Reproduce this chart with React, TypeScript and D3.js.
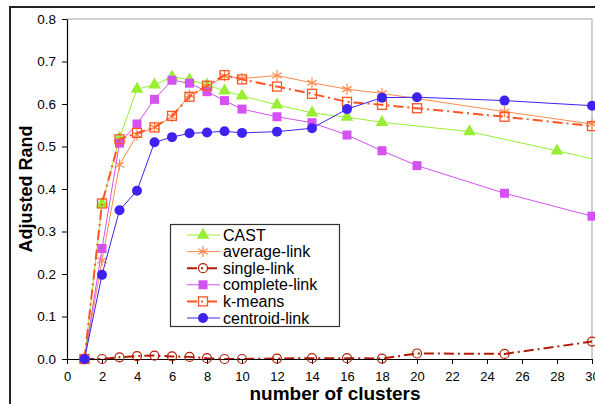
import { select, scaleLinear, axisBottom, axisLeft, line, symbol, symbolTriangle } from "d3";
import { useEffect, useRef } from "react";

// x positions (number of clusters)
const clusters = [1, 2, 3, 4, 5, 6, 7, 8, 9, 10, 12, 14, 16, 18, 20, 25, 30];
const castClusters = [1, 2, 3, 4, 5, 6, 7, 8, 9, 10, 12, 14, 16, 18, 23, 28, 32];
const avgClusters = [1, 2, 3, 4, 5, 6, 7, 8, 9, 10, 12, 14, 16, 18, 25, 30];

const castValues = [0, 0.365, 0.52, 0.635, 0.645, 0.664, 0.657, 0.645, 0.631, 0.619, 0.598, 0.579, 0.569, 0.557, 0.535, 0.49, 0.452];
const averageValues = [0, 0.232, 0.457, 0.527, 0.545, 0.57, 0.621, 0.64, 0.666, 0.66, 0.667, 0.65, 0.635, 0.625, 0.582, 0.553];
const singleValues = [0, 0, 0.004, 0.007, 0.008, 0.006, 0.005, 0.002, 0, 0, 0.001, 0.002, 0.002, 0.001, 0.013, 0.012, 0.041];
const completeValues = [0, 0.26, 0.508, 0.553, 0.611, 0.656, 0.649, 0.629, 0.608, 0.588, 0.57, 0.556, 0.527, 0.49, 0.455, 0.39, 0.336];
const kmeansValues = [0, 0.366, 0.517, 0.532, 0.545, 0.572, 0.617, 0.643, 0.668, 0.658, 0.641, 0.624, 0.605, 0.598, 0.59, 0.57, 0.548];
const centroidValues = [0, 0.198, 0.35, 0.396, 0.51, 0.522, 0.531, 0.533, 0.536, 0.532, 0.535, 0.543, 0.588, 0.615, 0.616, 0.608, 0.596];

const xTicks = [0, 2, 4, 6, 8, 10, 12, 14, 16, 18, 20, 22, 24, 26, 28, 30];
const yTicks = [0, 0.1, 0.2, 0.3, 0.4, 0.5, 0.6, 0.7, 0.8];

const series = [
  { name: "CAST", xs: castClusters, ys: castValues, color: "#99ee33", width: 1, dash: null, marker: "triangle" },
  { name: "average-link", xs: avgClusters, ys: averageValues, color: "#ff8a4c", width: 1, dash: null, marker: "asterisk" },
  { name: "single-link", xs: clusters, ys: singleValues, color: "#b01c00", width: 2, dash: "10,4,2,4", marker: "opencircle" },
  { name: "complete-link", xs: clusters, ys: completeValues, color: "#d452f2", width: 1, dash: null, marker: "square" },
  { name: "k-means", xs: clusters, ys: kmeansValues, color: "#ff5522", width: 2, dash: "10,4,2,4", marker: "opensquare" },
  { name: "centroid-link", xs: clusters, ys: centroidValues, color: "#3d22f2", width: 1, dash: null, marker: "circle" },
];

const W = 595, H = 404;
const margin = { top: 19, left: 67 };
const font = "Liberation Sans, Arial, sans-serif";

function drawMarker(g: any, kind: string, color: string, cx: number, cy: number) {
  if (kind === "triangle") {
    g.append("path").attr("d", symbol(symbolTriangle, 70)())
      .attr("transform", `translate(${cx},${cy})`).attr("fill", color);
  } else if (kind === "square") {
    g.append("rect").attr("x", cx - 4.5).attr("y", cy - 4.5).attr("width", 9).attr("height", 9).attr("fill", color);
  } else if (kind === "opensquare") {
    g.append("rect").attr("x", cx - 4.5).attr("y", cy - 4.5).attr("width", 9).attr("height", 9)
      .attr("fill", "none").attr("stroke", color).attr("stroke-width", 1.3);
  } else if (kind === "circle") {
    g.append("circle").attr("cx", cx).attr("cy", cy).attr("r", 5).attr("fill", color);
  } else if (kind === "opencircle") {
    g.append("circle").attr("cx", cx).attr("cy", cy).attr("r", 4.5)
      .attr("fill", "none").attr("stroke", color).attr("stroke-width", 1.2);
  } else if (kind === "asterisk") {
    const r = 5.5;
    [0, 60, 120].forEach((a) => {
      const rad = (a * Math.PI) / 180;
      g.append("line")
        .attr("x1", cx - r * Math.sin(rad)).attr("y1", cy - r * Math.cos(rad))
        .attr("x2", cx + r * Math.sin(rad)).attr("y2", cy + r * Math.cos(rad))
        .attr("stroke", color).attr("stroke-width", 1.2);
    });
  }
}

export default function App() {
  const ref = useRef<SVGSVGElement>(null);

  useEffect(() => {
    if (!ref.current) return;
    const svg = select(ref.current);
    svg.selectAll("*").remove();

    const x = scaleLinear().domain([0, 30]).range([margin.left, 592]);
    const y = scaleLinear().domain([0, 0.8]).range([359, margin.top]);

    // outer frame
    svg.append("rect").attr("x", 10).attr("y", 7).attr("width", W + 20).attr("height", H + 20)
      .attr("fill", "none").attr("stroke", "#222").attr("stroke-width", 2);

    // plot border (top / right)
    svg.append("line").attr("x1", x(0)).attr("x2", x(30)).attr("y1", y(0.8)).attr("y2", y(0.8))
      .attr("stroke", "#c0c0c0").attr("stroke-width", 1.5);
    svg.append("line").attr("x1", x(30)).attr("x2", x(30)).attr("y1", y(0.8)).attr("y2", y(0))
      .attr("stroke", "#c0c0c0").attr("stroke-width", 1.5);

    svg.append("defs").append("clipPath").attr("id", "plotclip")
      .append("rect").attr("x", x(0)).attr("y", y(0.8)).attr("width", x(30) - x(0)).attr("height", y(0) - y(0.8));

    const yAxis = svg.append("g").attr("transform", `translate(${x(0)},0)`)
      .call(axisLeft(y).tickValues(yTicks).tickFormat((d: any) => (+d).toFixed(1)).tickSize(5).tickSizeOuter(0));
    yAxis.select(".domain").attr("stroke", "#000").attr("stroke-width", 1.2);
    yAxis.selectAll("line").attr("stroke", "#000");
    yAxis.selectAll("text").attr("font-family", font).attr("font-size", 13.5)
      .attr("fill", "#000").attr("x", -11);

    const xAxis = svg.append("g").attr("transform", `translate(0,${y(0)})`)
      .call(axisBottom(x).tickValues(xTicks).tickSize(5).tickSizeOuter(0));
    xAxis.select(".domain").attr("stroke", "#000").attr("stroke-width", 1.2);
    xAxis.selectAll("line").attr("stroke", "#000");
    xAxis.selectAll("text").attr("font-family", font).attr("font-size", 13)
      .attr("fill", "#000").attr("y", 13);

    // series
    series.forEach((s) => {
      const pts = s.xs.map((c, i) => [c, s.ys[i]] as [number, number]);
      const path = line<[number, number]>().x((d) => x(d[0])).y((d) => y(d[1]));
      svg.append("path").attr("d", path(pts)).attr("fill", "none")
        .attr("stroke", s.color).attr("stroke-width", s.width)
        .attr("stroke-dasharray", s.dash)
        .attr("clip-path", "url(#plotclip)");
      const mg = svg.append("g");
      pts.filter((p) => p[0] <= 30).forEach((p) => drawMarker(mg, s.marker, s.color, x(p[0]), y(p[1])));
    });

    // legend
    const lg = svg.append("g");
    lg.append("rect").attr("x", 170.5).attr("y", 224.5).attr("width", 169).attr("height", 102)
      .attr("fill", "#fff").attr("stroke", "#333").attr("stroke-width", 1.2);
    series.forEach((s, i) => {
      const ly = 235 + i * 16.6;
      lg.append("line").attr("x1", 187).attr("x2", 220).attr("y1", ly).attr("y2", ly)
        .attr("stroke", s.color).attr("stroke-width", s.width).attr("stroke-dasharray", s.dash);
      drawMarker(lg, s.marker, s.color, 203, ly);
      lg.append("text").attr("x", 223).attr("y", ly + 5.5).text(s.name)
        .attr("font-family", font).attr("font-size", 16).attr("fill", "#000");
    });

    // axis titles
    svg.append("text").attr("x", 335).attr("y", 400).attr("text-anchor", "middle")
      .attr("font-family", font).attr("font-size", 19).attr("font-weight", "bold")
      .text("number of clusters");
    svg.append("text").attr("transform", `translate(32,189) rotate(-90)`).attr("text-anchor", "middle")
      .attr("font-family", font).attr("font-size", 18).attr("font-weight", "bold")
      .text("Adjusted Rand");
  }, []);

  return (
    <svg ref={ref} width={W} height={H}
      style={{ position: "absolute", left: 0, top: 0, background: "#fff", display: "block" }} />
  );
}
